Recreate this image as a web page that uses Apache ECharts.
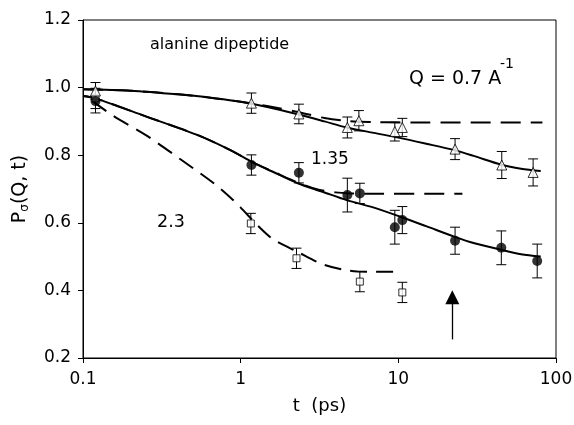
<!DOCTYPE html>
<html lang="en">
<head>
    <meta charset="UTF-8">
    <title>alanine dipeptide</title>
    <script src="https://cdn.jsdelivr.net/npm/echarts@6/dist/echarts.min.js"></script>
</head>
<body style="margin:0">
    <div id="chart" style="width:574px;height:425px;"></div>
</body>
<script>
    // measured points (Q = 0.7, 1.35, 2.3)
    const triT = [0.12, 1.17, 2.34, 4.75, 5.62, 9.5, 10.6, 22.9, 45.3, 71.6];
    const triP = [0.990, 0.954, 0.922, 0.882, 0.902, 0.870, 0.882, 0.818, 0.771, 0.749];
    const triErr = [0.025, 0.030, 0.029, 0.031, 0.030, 0.028, 0.027, 0.031, 0.040, 0.040];

    const dotT = [0.12, 1.17, 2.34, 4.75, 5.70, 9.5, 10.6, 22.9, 45.0, 76.0];
    const dotP = [0.960, 0.771, 0.748, 0.682, 0.687, 0.587, 0.608, 0.547, 0.526, 0.487];
    const dotErr = [0.035, 0.030, 0.030, 0.050, 0.030, 0.050, 0.040, 0.040, 0.050, 0.050];

    const sqT = [0.12, 1.16, 2.26, 5.70, 10.6];
    const sqP = [0.968, 0.598, 0.495, 0.426, 0.394];
    const sqErr = [0.030, 0.030, 0.030, 0.030, 0.030];

    // solid fits
    const fitTriT = [0.1, 0.2, 0.4, 0.7, 1.0, 1.5, 2.3, 3.4, 4.7, 7, 10, 15, 22.6, 30, 45, 60, 80];
    const fitTriP = [0.995, 0.991, 0.980, 0.968, 0.958, 0.942, 0.921, 0.900, 0.882, 0.866, 0.852, 0.834, 0.815, 0.798, 0.772, 0.760, 0.753];
    const fitDotT = [0.1, 0.12, 0.25, 0.53, 0.86, 1.2, 1.6, 2.3, 3.3, 4.7, 7, 10.3, 15, 22.6, 30, 45, 60, 80];
    const fitDotP = [0.975, 0.968, 0.915, 0.860, 0.815, 0.778, 0.751, 0.717, 0.692, 0.667, 0.645, 0.618, 0.590, 0.559, 0.540, 0.520, 0.507, 0.500];

    // dashed curves
    const dashTriT = [0.1, 0.2, 0.4, 0.7, 1.0, 1.5, 2.3, 3.4, 4.8, 7, 10, 82];
    const dashTriP = [0.995, 0.991, 0.980, 0.968, 0.958, 0.945, 0.928, 0.910, 0.901, 0.898, 0.897, 0.897];
    const dashDotT = [0.1, 0.12, 0.25, 0.53, 0.86, 1.2, 1.6, 2.07, 3.0, 4.0, 5.0, 7, 25.5];
    const dashDotP = [0.975, 0.968, 0.915, 0.860, 0.815, 0.778, 0.752, 0.728, 0.700, 0.690, 0.687, 0.686, 0.686];
    const dashSqT = [0.115, 0.156, 0.255, 0.415, 0.675, 0.86, 1.0, 1.34, 1.62, 2.29, 3.37, 5.5, 9.4];
    const dashSqP = [0.960, 0.916, 0.857, 0.788, 0.717, 0.675, 0.645, 0.583, 0.550, 0.514, 0.476, 0.456, 0.455];

    // arrow marker
    const arrowT = 22;
    const arrowFrom = 0.255;
    const arrowTo = 0.38;

    const FONT = 'DejaVu Sans';

    function pairs(xs, ys) {
        return xs.map((x, i) => [x, ys[i]]);
    }

    function errData(xs, ys, es) {
        return xs.map((x, i) => [x, ys[i] - es[i], ys[i] + es[i]]);
    }

    function errBars(data) {
        return {
            type: 'custom',
            silent: true,
            z: 3,
            data: data,
            renderItem: function (params, api) {
                const lo = api.coord([api.value(0), api.value(1)]);
                const hi = api.coord([api.value(0), api.value(2)]);
                const w = 5;
                const st = { stroke: '#000', lineWidth: 1 };
                return {
                    type: 'group',
                    children: [
                        { type: 'line', shape: { x1: lo[0], y1: lo[1], x2: hi[0], y2: hi[1] }, style: st },
                        { type: 'line', shape: { x1: lo[0] - w, y1: lo[1], x2: lo[0] + w, y2: lo[1] }, style: st },
                        { type: 'line', shape: { x1: hi[0] - w, y1: hi[1], x2: hi[0] + w, y2: hi[1] }, style: st }
                    ]
                };
            }
        };
    }

    function curve(xs, ys, dashed) {
        return {
            type: 'line',
            data: pairs(xs, ys),
            showSymbol: false,
            smooth: 0.3,
            silent: true,
            z: 2,
            lineStyle: {
                color: '#000',
                width: 2,
                type: dashed ? dashed : 'solid'
            }
        };
    }

    function label(text, x, y, size) {
        return {
            type: 'text', x: x, y: y, silent: true,
            style: { text: text, fontFamily: FONT, fontSize: size, fill: '#000', align: 'left', verticalAlign: 'middle' }
        };
    }

    var chart = echarts.init(document.getElementById('chart'));

    var options = {
        animation: false,
        backgroundColor: '#fff',
        grid: {
            left: 83,
            right: 18,
            top: 20,
            bottom: 67,
            show: true,
            borderColor: '#000',
            borderWidth: 1,
            outerBoundsMode: 'none'
        },
        xAxis: {
            type: 'log',
            logBase: 10,
            min: 0.1,
            max: 100,
            name: 't  (ps)',
            nameLocation: 'middle',
            nameGap: 39,
            nameTextStyle: { fontFamily: FONT, fontSize: 18, color: '#000' },
            axisLine: { lineStyle: { color: '#000', width: 1 } },
            axisTick: { show: true, inside: false, length: 5, lineStyle: { color: '#000' } },
            minorTick: { show: false },
            splitLine: { show: false },
            axisLabel: {
                fontFamily: FONT, fontSize: 17, color: '#000', margin: 13,
                formatter: v => String(v)
            }
        },
        yAxis: {
            type: 'value',
            min: 0.2,
            max: 1.2,
            interval: 0.2,
            name: '{a|P}{b|σ}{a|(Q, t)}',
            nameLocation: 'middle',
            nameGap: 52,
            nameRotate: 90,
            nameTextStyle: {
                rich: {
                    a: { fontFamily: FONT, fontSize: 19, color: '#000', lineHeight: 22 },
                    b: { fontFamily: FONT, fontSize: 12, color: '#000', lineHeight: 12, verticalAlign: 'bottom' }
                }
            },
            axisLine: { show: true, lineStyle: { color: '#000', width: 1 } },
            axisTick: { show: true, inside: false, length: 5, lineStyle: { color: '#000' } },
            splitLine: { show: false },
            axisLabel: {
                fontFamily: FONT, fontSize: 17, color: '#000', margin: 12,
                formatter: v => v.toFixed(1)
            }
        },
        graphic: [
            label('alanine dipeptide', 150, 45, 16),
            label('Q = 0.7 A', 409, 79, 19),
            label('-1', 500, 64, 14),
            label('1.35', 311, 160, 17),
            label('2.3', 157, 222, 17.5)
        ],
        series: [
            curve(fitTriT, fitTriP),
            curve(fitDotT, fitDotP),
            curve(dashTriT, dashTriP, [20, 10]),
            curve(dashDotT, dashDotP, [20, 10]),
            curve(dashSqT, dashSqP, [17, 9]),
            errBars(errData(triT, triP, triErr)),
            errBars(errData(dotT, dotP, dotErr)),
            errBars(errData(sqT, sqP, sqErr)),
            {
                type: 'scatter',
                data: pairs(sqT, sqP),
                symbol: 'rect',
                symbolSize: 7,
                z: 5,
                itemStyle: { color: '#fff', borderColor: '#000', borderWidth: 1 },
                markLine: {
                    silent: true,
                    symbol: ['none', 'triangle'],
                    symbolSize: 14,
                    label: { show: false },
                    lineStyle: { color: '#000', width: 1.3, type: 'solid' },
                    data: [[{ coord: [arrowT, arrowFrom] }, { coord: [arrowT, arrowTo] }]]
                }
            },
            {
                type: 'scatter',
                data: pairs(triT, triP),
                symbol: 'triangle',
                symbolSize: 10,
                z: 5,
                itemStyle: { color: '#fff', borderColor: '#000', borderWidth: 1 }
            },
            {
                type: 'scatter',
                data: pairs(dotT, dotP),
                symbol: 'circle',
                symbolSize: 10,
                z: 5,
                itemStyle: { color: '#000' }
            }
        ]
    };

    chart.setOption(options);
</script>
</html>
